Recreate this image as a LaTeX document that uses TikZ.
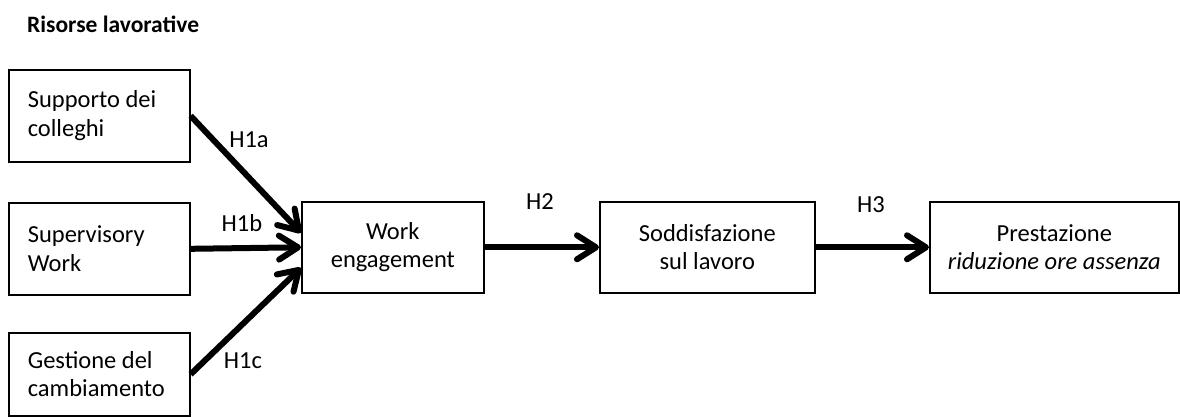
\documentclass[tikz,border=0pt]{standalone}
\usepackage{fontspec}
\setmainfont{Carlito}
\usetikzlibrary{arrows.meta}
\begin{document}
\begin{tikzpicture}[x=1pt,y=-1pt,
  every node/.style={font=\fontsize{24.5}{28.5}\selectfont},
  leftbox/.style={draw, line width=1.6pt, anchor=north west,
    minimum height=92pt, text width=143pt, inner xsep=19pt, align=flush left},
  midbox/.style={draw, line width=1.6pt, anchor=north west,
    minimum height=91pt, inner sep=0pt, align=center},
  link/.style={line width=6pt,
    -{Straight Barb[length=19pt, width=24pt, round]}},
  hyp/.style={inner sep=0pt}
]
\useasboundingbox (0,0) rectangle (1180,416);

% heading
\node[anchor=base west, inner sep=0pt, font=\fontsize{23.5}{28.2}\selectfont\bfseries]
  (title) at (27,32) {Risorse lavorative};

% job resources
\node[leftbox] (sup) at (8,69)  {Supporto dei\\colleghi};
\node[leftbox] (svw) at (8,202) {Supervisory\\Work};
\node[leftbox, minimum height=83pt] (ges) at (8,332) {Gestione del\\cambiamento};

% mediators and outcome
\node[midbox, minimum width=182pt] (we) at (301,201) {Work\\engagement};
\node[midbox, minimum width=215pt] (sod) at (599,201) {Soddisfazione\\sul lavoro};
\node[midbox, minimum width=249pt] (pre) at (929,201) {Prestazione\\\itshape riduzione ore assenza};

% hypotheses
\draw[link] (sup.east) -- ([yshift=14.5pt]we.west);
\draw[link] (svw.east) -- (we.west);
\draw[link] (ges.east) -- ([yshift=-20.5pt]we.west);
\draw[link] (we.east) -- (sod.west);
\draw[link] (sod.east) -- (pre.west);

\node[hyp] (h1a) at (249,140) {H1a};
\node[hyp] (h1b) at (242,223) {H1b};
\node[hyp] (h1c) at (243,361) {H1c};
\node[hyp] (h2)  at (540,202) {H2};
\node[hyp] (h3)  at (871,205) {H3};
\end{tikzpicture}
\end{document}
